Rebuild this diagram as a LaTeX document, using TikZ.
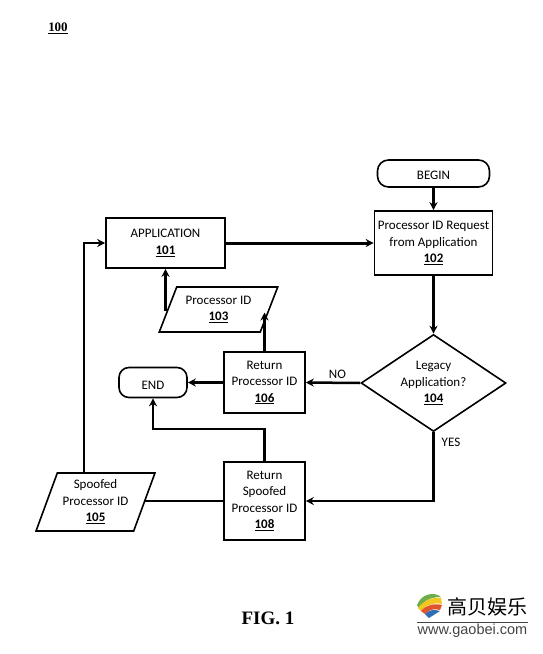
\documentclass[tikz,border=0pt]{standalone}
\usepackage{fontspec}
\setmainfont{Carlito}
\newfontfamily\figfont{Liberation Serif}
\newfontfamily\cjkfont{Noto Sans CJK SC}
\newfontfamily\webfont{Liberation Sans}
\usetikzlibrary{arrows.meta,calc,positioning,shapes.geometric}
\definecolor{LogoGreen}{HTML}{6FAE4A}
\definecolor{LogoYellow}{HTML}{F2C81E}
\definecolor{LogoRed}{HTML}{E0552B}
\definecolor{LogoBlue}{HTML}{2F6FB5}
\definecolor{WebGray}{HTML}{444444}
\newcommand{\refnum}[1]{\underline{\textbf{#1}}}

\begin{document}
\begin{tikzpicture}[
        x=1pt, y=-1pt,
        font=\fontsize{13}{16.5}\selectfont,
        lowered/.style={execute at begin node={\rule{0pt}{13pt}}},
        stepbox/.style={
            lowered,
            draw=black,
            line width=1.6pt,
            align=center,
            inner sep=0pt
        },
        terminal/.style={
            lowered,
            draw=black,
            line width=1.6pt,
            rounded corners=11pt,
            align=center,
            inner sep=0pt
        },
        decision/.style={
            lowered,
            draw=black,
            line width=1.6pt,
            diamond,
            aspect=1.5,
            align=center,
            inner sep=0pt
        },
        dataio/.style={
            lowered,
            draw=black,
            line width=1.6pt,
            trapezium,
            trapezium stretches=true,
            align=center,
            inner sep=0pt
        },
        arrow/.style={-{Stealth[length=8pt,width=8pt]}, line width=2.5pt, draw=black},
        plainline/.style={line width=2.5pt, draw=black}
    ]
        \useasboundingbox (0,0) rectangle (543,654);

        \node[inner sep=0pt] (figref) at (58,28) {\figfont\fontsize{13}{15}\selectfont\underline{\textbf{100}}};

        \node[terminal, minimum width=112pt, minimum height=27pt] (begin) at (433.5,173.5) {BEGIN};
        \node[stepbox, minimum width=119pt, minimum height=50pt] (app) at (165.5,243) {APPLICATION\\\refnum{101}};
        \node[stepbox, minimum width=118pt, minimum height=64pt] (request) at (433.5,243) {Processor ID Request\\from Application\\\refnum{102}};
        \node[dataio, trapezium left angle=63, trapezium right angle=117, minimum width=119pt, minimum height=45pt] (procid) at (218.5,309.5) {Processor ID\\\refnum{103}};
        \node[decision, minimum width=145pt, minimum height=97pt] (legacy) at (433.5,383) {Legacy\\Application?\\\refnum{104}};
        \node[stepbox, minimum width=81pt, minimum height=61pt] (ret106) at (264.5,382.5) {Return\\Processor ID\\\refnum{106}};
        \node[terminal, rounded corners=10pt, minimum width=68pt, minimum height=30pt] (finish) at (153,382.5) {END};
        \node[stepbox, minimum width=81pt, minimum height=78pt] (ret108) at (264.5,501) {Return\\Spoofed\\Processor ID\\\refnum{108}};
        \node[dataio, trapezium left angle=67.5, trapezium right angle=112.5, minimum width=119pt, minimum height=58pt] (spoofed) at (95.5,502) {Spoofed\\Processor ID\\\refnum{105}};

        \coordinate (spoofup) at (84,473);
        \coordinate (bendend) at (153,429);

        \draw[arrow] (begin) -- (request);
        \draw[arrow, line width=3pt] (app) -- (request);
        \draw[arrow] (request) -- (legacy);
        \draw[arrow] (legacy.west) -- node[above, pos=0.42, yshift=1pt, inner sep=2pt] (nolabel) {NO} (ret106.east);
        \draw[arrow] (legacy.south) |- (ret108.east);
        \node[inner sep=0pt] (yeslabel) at (451,442) {YES};
        \draw[arrow] (ret106.west) -- (finish.east);
        \draw[arrow] (ret106.north) -- ($(ret106.north |- procid.east)+(0,3)$);
        \draw[arrow] (procid.west) -| (app.south);
        \draw[arrow] (ret108.north) |- (bendend) -- (finish.south);
        \draw[plainline] (ret108.west) -- (ret108.west -| spoofed.east);
        \draw[arrow] (spoofup) |- (app.west);

        \node[inner sep=0pt] (figlabel) at (268,618) {\figfont\fontsize{19}{22}\selectfont\textbf{FIG. 1}};

        % watermark
        \fill[LogoGreen] (417,605) .. controls (421,594) and (434,591) .. (441,597) .. controls (432,597) and (424,600) .. (419,608) -- cycle;
        \fill[LogoYellow] (418,608) .. controls (424,600) and (433,597) .. (441,598) -- (442,604) .. controls (434,602) and (426,605) .. (421,611) -- cycle;
        \fill[LogoRed] (421,611) .. controls (426,605) and (434,603) .. (442,605) -- (440,610) .. controls (434,608) and (429,610) .. (425,614) -- cycle;
        \fill[LogoBlue] (425,614) .. controls (429,610) and (434,609) .. (440,611) -- (429,618) -- cycle;
        \node[inner sep=0pt] (logotext) at (487.5,607) {\cjkfont\fontsize{20}{22}\selectfont 高贝娱乐};
        \coordinate (ruleleft) at (417,622);
        \coordinate (ruleright) at (528,622);
        \draw[line width=0.6pt, WebGray] (ruleleft) -- (ruleright);
        \node[inner sep=0pt, text=WebGray] (weblabel) at (472.5,631) {\webfont\fontsize{14.5}{16}\selectfont www.gaobei.com};
\end{tikzpicture}
\end{document}
